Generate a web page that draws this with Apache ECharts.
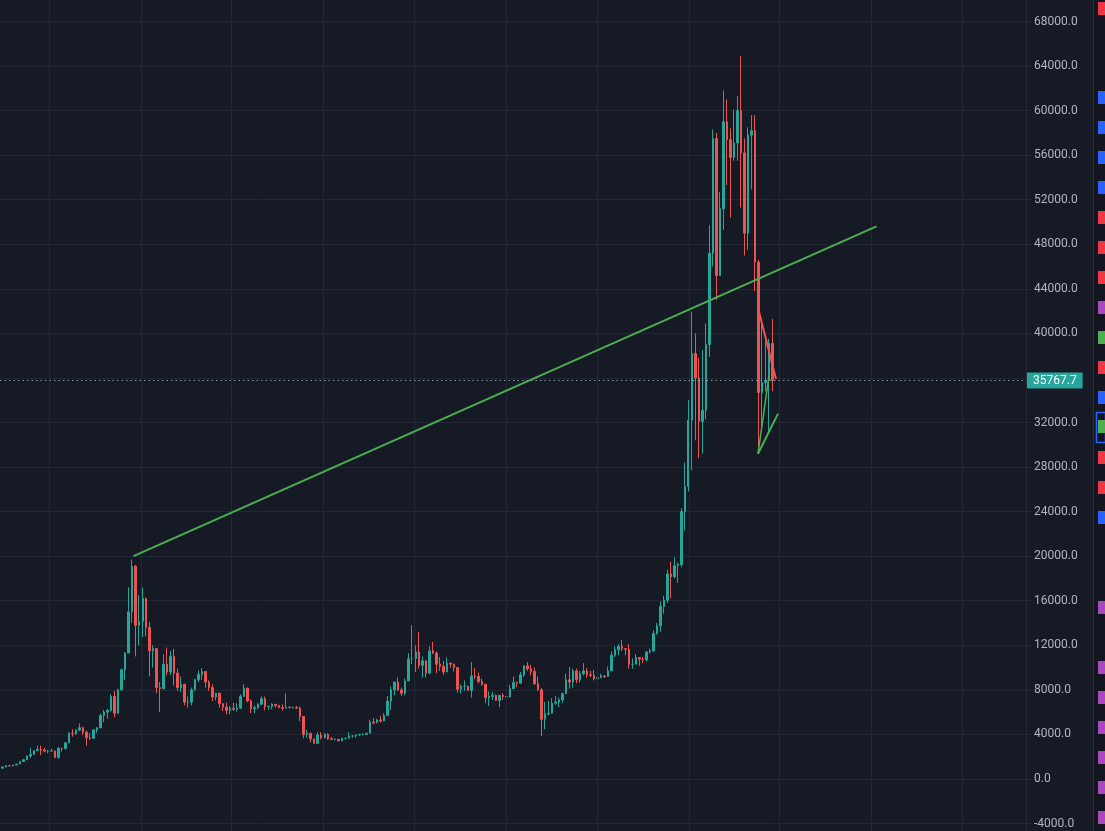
<!DOCTYPE html>
<html><head><meta charset="utf-8">
<script src="https://cdn.jsdelivr.net/npm/echarts@6/dist/echarts.min.js"></script>
<style>html,body{margin:0;padding:0;background:#161a25;overflow:hidden}#c{width:1105px;height:831px}</style>
</head><body><div id="c"></div>
<script>
// ---- data (weekly candles) ----
const firstWeek = '2017-03-20';   // Monday of first weekly candle
const firstOpen = 1020;
const closes = [
  965,1080,1190,1170,1250,1340,1560,1720,2050,2200,2550,2650,2600,2500,2500,2500,1920,2750,2720,3240,4100,4080,4380,4600,4200,3700,3650,4400,4600,5700,6000,6150,7400,5900,8000,9800,11300,15000,19100,13800,14150,
  16200,13600,11500,11700,8200,8100,10300,9600,11000,9500,8200,8500,6900,6900,8000,8900,9400,9650,8700,8200,7350,7700,6750,6450,6150,6350,6250,6350,7400,8150,7000,6300,6400,6700,7200,6500,6500,6700,6600,6400,6350,6420,6400,6400,6350,5600,4000,4100,3600,3200,3950,3700,
  4000,3600,3550,3550,3420,3650,3650,3850,3850,3950,4000,4000,4100,5100,5050,5300,5200,5700,7000,8000,8700,8000,7700,8800,10800,10800,11400,10200,10600,9500,11500,11300,10300,10100,9600,10400,10300,10000,8050,8300,8300,7950,9250,9200,8750,8500,7300,7400,7500,7050,7500,7400,7350,
  8100,8650,8600,9350,10150,9900,9650,8550,8000,5350,5850,5900,6800,6900,7100,7650,8900,8700,9700,8900,9450,9700,9350,9300,9000,9100,9250,9200,9700,11100,11600,11900,11700,11650,10300,10300,10900,10750,10700,11400,11500,13050,13750,15500,16050,18400,18150,19150,19250,24000,26250,32200,
  38200,36000,32100,33100,39000,47200,57500,45200,51200,59000,57400,55800,57100,60000,56200,49000,57800,58200,46400,34700,35600,35800,39100,35767.7
];
const highs = [
  1110,1090,1210,1215,1260,1350,1600,1800,2100,2780,2590,2980,2980,2780,2600,2700,2550,2900,2800,3300,4200,4480,4450,4980,4700,4350,4100,4470,4650,5850,6200,6300,7600,7900,8100,9900,11400,17200,19700,19200,16500,
  17200,16300,14100,12000,11700,8700,11200,11800,11500,11700,9900,9200,8500,7400,8200,9000,9750,9950,9650,8850,8500,7750,7750,6800,6850,6550,6850,6800,7600,8500,8200,7150,6600,6800,7400,7400,6600,6800,6700,6650,6700,7700,6550,6500,6550,6500,5600,4400,4150,3600,4200,4200,
  4100,4100,3750,3650,3500,3700,3700,4200,3950,4000,4050,4100,4150,5300,5450,5400,5650,5900,7450,8300,8750,9100,8200,9000,11300,13800,12000,13200,11000,10650,11900,12300,11450,10950,10600,10900,10450,10350,10050,8500,8850,8400,10500,9950,9550,9000,8500,7850,7800,7600,7550,7700,7600,
  8450,9200,8750,9600,10200,10500,10250,10000,9200,8150,6900,7000,7250,7450,7300,7750,9450,10050,9900,9900,9700,10400,9950,9700,9800,9300,9450,9300,10100,11450,11900,12100,12500,11750,12100,10800,11200,10900,10950,11450,11700,13350,14000,15950,16450,18800,19500,19900,19400,24300,28400,34000,
  41950,40000,37800,38500,40900,49700,58300,58000,52700,61800,61000,58400,60100,61300,64900,57500,58500,59600,59600,46600,40900,39500,39500,41300
];
const lows = [
  890,940,1040,1150,1170,1240,1340,1550,1700,1900,2150,2480,2150,2400,2300,2480,1900,1830,2450,2650,3200,3800,3950,4300,3950,2980,3500,3650,4150,4550,5100,5400,6050,5550,5850,7900,8900,11300,14000,11000,12000,
  12750,12800,9200,10000,7700,6000,8200,9300,9300,8400,7900,7800,6600,6400,6600,7900,8700,8900,8200,7900,7000,7050,6400,6100,5800,5800,6100,6050,6300,7400,6900,5900,5900,6250,6700,6150,6200,6250,6400,6350,6150,6350,6350,6300,6300,5200,3650,3700,3300,3150,3150,3550,
  3650,3500,3500,3450,3350,3400,3550,3650,3700,3700,3850,3900,3950,4100,4900,5000,5050,5250,5700,6200,7500,7900,7450,7500,8900,10300,9600,9900,9100,9100,9400,11200,9500,9700,9350,9700,9950,9650,7750,7700,7900,7900,7300,8950,8600,8350,6800,6550,7100,7000,6450,7100,6850,
  7350,8100,8250,8550,9150,9700,9300,8450,7900,3850,4450,5700,5850,6650,6450,6800,7650,8100,8200,8600,8650,9300,9100,9150,8850,8900,9050,9050,9150,9700,10950,11100,11500,11100,9900,9900,10300,10150,10400,10550,11250,11400,12950,13200,14850,15800,16200,18000,17600,19000,22300,25800,
  27700,30400,28800,29200,32300,37900,46000,43000,46000,49300,53300,50400,55500,55500,51300,47000,47500,52900,43800,29200,31200,34800,31000,34800
];
const lastPrice = 35767.7;
const yMin = -4000, yMax = 68000, yStep = 4000;
const trendLine = [['2017-12-17', 20000], ['2022-01-11', 49600]];
const upperWedge = [['2021-05-19', 42300], ['2021-06-24', 35900]];
const lowerWedge = [['2021-05-19', 29200], ['2021-06-28', 32800]];
const lowerWedgeInner = [['2021-05-19', 29200], ['2021-06-10', 36200]];
const halfYearLines = ['2017-07-01','2018-01-01','2018-07-01','2019-01-01','2019-07-01','2020-01-01','2020-07-01','2021-01-01','2021-07-01','2022-01-01','2022-07-01'];
const viewStart = '2017-03-25';

// ---- build ----
const DAY = 864e5;
const t = s => Date.parse(s + 'T00:00:00Z');
const week0 = t(firstWeek);
const candles = closes.map((c, i) => [
  week0 + i * 7 * DAY + 3 * DAY,
  i === 0 ? firstOpen : closes[i - 1],
  c, lows[i], highs[i]
]);
const pts = arr => arr.map(p => [t(p[0]), p[1]]);

const UP = '#26a69a', DOWN = '#ef5350', GRID = '#232735';
const FONT = 'Roboto, "Liberation Sans", sans-serif';
const xMin = t(viewStart);
const plotW = 1026;
const xMax = xMin + plotW * 2 * DAY;

const markers = [
  [2,'#f23645'],[91,'#2962ff'],[121,'#2962ff'],[151,'#2962ff'],[181,'#2962ff'],[211,'#f23645'],[241,'#f23645'],[271,'#f23645'],
  [301,'#ab47bc'],[331,'#4caf50'],[361,'#f23645'],[391,'#2962ff'],[420,'#4caf50'],[451,'#f23645'],[481,'#f23645'],[511,'#2962ff'],
  [601,'#ab47bc'],[661,'#ab47bc'],[691,'#ab47bc'],[721,'#ab47bc'],[751,'#ab47bc'],[781,'#ab47bc'],[811,'#ab47bc']
];
const graphics = [
  {type:'rect', z: -1, shape:{x:plotW,y:0,width:1,height:831}, style:{fill:'#262a36'}, silent:true},
  {type:'rect', shape:{x:1093,y:0,width:1,height:831}, style:{fill:'#2a2e39'}, silent:true},
  {type:'rect', shape:{x:1094,y:0,width:11,height:831}, style:{fill:'#131620'}, silent:true},
  {type:'rect', shape:{x:1096.5,y:412.5,width:9,height:30}, style:{fill:'none', stroke:'#2962ff', lineWidth:1.5}, silent:true}
].concat(markers.map(m => ({type:'rect', shape:{x:1098,y:m[0],width:7,height:13}, style:{fill:m[1]}, silent:true})));

const chart = echarts.init(document.getElementById('c'), null, {renderer:'canvas'});
chart.setOption({
  backgroundColor: '#161a25',
  animation: false,
  grid: [
    {left: 0, right: 1105 - plotW, top: 21.5, height: 802},
    {left: 0, right: 1105 - plotW, top: 0, bottom: 0}
  ],
  xAxis: [
    {type: 'time', gridIndex: 0, min: xMin, max: xMax,
     axisLabel: {show:false}, axisLine: {show:false}, axisTick: {show:false}, splitLine: {show:false}},
    {type: 'time', gridIndex: 1, min: xMin, max: xMax,
     axisLabel: {show:false}, axisLine: {show:false}, axisTick: {show:false}, splitLine: {show:false}}
  ],
  yAxis: [
    {
      type: 'value', gridIndex: 0, position: 'right', min: yMin, max: yMax, interval: yStep,
      axisLine: {show: false},
      axisTick: {show: true, length: 4, lineStyle: {color: '#2a2e39'}},
      axisLabel: {
        color: '#b2b5be', fontSize: 12, fontFamily: FONT, margin: 8, padding: [3, 0, 0, 0],
        formatter: v => (Math.abs(v - lastPrice) < yStep / 2 ? '' : v.toFixed(1))
      },
      splitLine: {show: true, lineStyle: {color: GRID, width: 1}}
    },
    {type: 'value', gridIndex: 1, min: 0, max: 1, show: false}
  ],
  graphic: graphics,
  series: [
    {
      type: 'line', z: 1, xAxisIndex: 1, yAxisIndex: 1, data: [[xMin, 0]], symbol: 'none', lineStyle: {opacity: 0}, silent: true,
      markLine: {
        silent: true, symbol: 'none', animation: false,
        lineStyle: {color: GRID, width: 1, type: 'solid'},
        label: {show: false},
        data: halfYearLines.map(d => ({xAxis: t(d)}))
      }
    },
    {
      type: 'candlestick', z: 2,
      data: candles,
      encode: {x: 0, y: [1, 2, 3, 4]},
      barWidth: 2,
      itemStyle: {color: UP, color0: DOWN, borderColor: UP, borderColor0: DOWN, borderWidth: 1},
      markLine: {
        silent: true, symbol: 'none', animation: false,
        lineStyle: {color: '#7f9aa6', type: [1.5, 3], width: 1},
        label: {
          show: true, position: 'end', distance: 1,
          formatter: () => lastPrice.toFixed(1),
          backgroundColor: '#26a69a', color: '#ffffff', fontSize: 12, fontFamily: FONT,
          padding: [2, 6, 2, 6], borderRadius: 1
        },
        data: [{yAxis: lastPrice}]
      }
    },
    {type:'line', z: 5, data: pts(trendLine), symbol:'none', silent:true, lineStyle:{color:'#4caf50', width:2}},
    {type:'line', z: 5, data: pts(upperWedge), symbol:'none', silent:true, lineStyle:{color:'#f05350', width:2}},
    {type:'line', z: 5, data: pts(lowerWedge), symbol:'none', silent:true, lineStyle:{color:'#4caf50', width:2}},
    {type:'line', z: 5, data: pts(lowerWedgeInner), symbol:'none', silent:true, lineStyle:{color:'#4caf50', width:1.5}}
  ]
});
</script>
</body></html>
